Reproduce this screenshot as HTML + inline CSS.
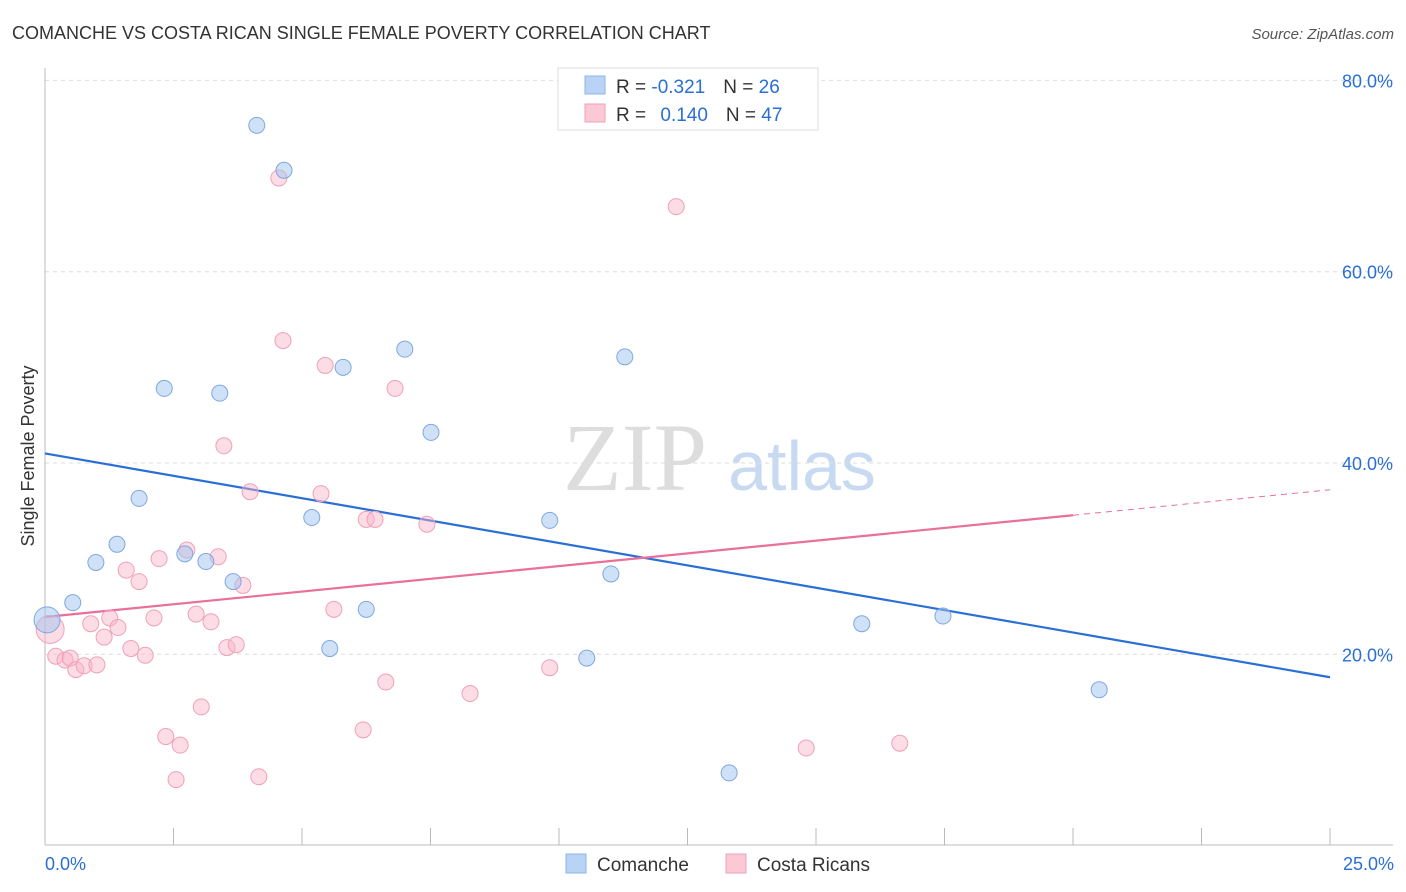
<!DOCTYPE html>
<html><head><meta charset="utf-8"><style>
body{margin:0;background:#fff;font-family:"Liberation Sans",sans-serif;}
#wrap{position:relative;width:1406px;height:892px;overflow:hidden}
</style></head><body>
<div id="wrap">
<svg id="chart" width="1406" height="892" xmlns="http://www.w3.org/2000/svg">
<text x="12" y="39" font-size="18" fill="#333">COMANCHE VS COSTA RICAN SINGLE FEMALE POVERTY CORRELATION CHART</text>
<text x="1394" y="39" font-size="15" fill="#555" text-anchor="end" font-style="italic">Source: ZipAtlas.com</text>
<text x="34" y="456" font-size="18" fill="#333" text-anchor="middle" transform="rotate(-90 34 456)">Single Female Poverty</text>
<g><text x="635" y="490" font-size="96" font-family="Liberation Serif,serif" fill="#ddd" text-anchor="middle">ZIP</text><text x="802" y="490" font-size="70" fill="#c8daf2" text-anchor="middle">atlas</text></g>
<g id="grid"></g><g id="axes"></g><g id="lines"></g><g id="pts"></g>
<g>
<rect x="558" y="68" width="260" height="62" fill="#fff" stroke="#ddd"/>
<rect x="585" y="76" width="20" height="18" fill="#b8d3f5" stroke="#8fb6e8"/>
<rect x="585" y="104" width="20" height="18" fill="#fbc8d6" stroke="#f0a0b8"/>
<text x="616" y="93" font-size="19" fill="#333">R = <tspan fill="#2a6fd6">-0.321</tspan><tspan dx="18">N = </tspan><tspan fill="#2a6fd6">26</tspan></text>
<text x="616" y="121" font-size="19" fill="#333">R = <tspan dx="9" fill="#2a6fd6">0.140</tspan><tspan dx="18">N = </tspan><tspan fill="#2a6fd6">47</tspan></text>
</g>
<g>
<rect x="566" y="854" width="20" height="19" fill="#b8d3f5" stroke="#8fb6e8"/>
<text x="597" y="871" font-size="19" fill="#333">Comanche</text>
<rect x="726" y="854" width="20" height="19" fill="#fbc8d6" stroke="#f0a0b8"/>
<text x="757" y="871" font-size="19" fill="#333">Costa Ricans</text>
</g>
<text x="45" y="870" font-size="18" fill="#2a6fd6">0.0%</text>
<text x="1394" y="870" font-size="18" fill="#2a6fd6" text-anchor="end">25.0%</text>
</svg>
</div>
<script>
const yTicks=[20,40,60,80];
const yTickLabels=["20.0%","40.0%","60.0%","80.0%"];
const xTicks=[0,2.5,5,7.5,10,12.5,15,17.5,20,22.5,25];
const comancheX=[0.04,0.54,0.99,1.40,1.83,2.32,2.72,3.13,3.40,3.66,4.12,4.65,5.19,5.54,5.80,6.25,7.00,7.51,9.82,11.01,10.54,11.28,13.31,15.89,17.47,20.51];
const comancheY=[23.6,25.4,29.6,31.5,36.3,47.8,30.5,29.7,47.3,27.6,75.3,70.6,34.3,20.6,50.0,24.7,51.9,43.2,34.0,28.4,19.6,51.1,7.6,23.2,24.0,16.3];
const costaX=[0.10,0.21,0.39,0.49,0.60,0.76,1.01,0.89,1.15,1.26,1.42,1.58,1.67,1.83,1.95,2.12,2.22,2.35,2.55,2.63,2.76,2.94,3.04,3.23,3.37,3.48,3.54,3.72,3.85,3.99,4.16,4.55,4.63,5.37,5.45,5.62,6.19,6.25,6.42,6.63,6.81,7.43,8.27,9.82,12.28,14.81,16.63];
const costaY=[22.6,19.8,19.4,19.6,18.4,18.8,18.9,23.2,21.8,23.8,22.8,28.8,20.6,27.6,19.9,23.8,30.0,11.4,6.9,10.5,30.9,24.2,14.5,23.4,30.2,41.8,20.7,21.0,27.2,37.0,7.2,69.8,52.8,36.8,50.2,24.7,12.1,34.1,34.1,17.1,47.8,33.6,15.9,18.6,66.8,10.2,10.7];
const comancheTrend=[41.0,17.6]; // y at x=0 and x=25
const costaTrend=[23.9,37.2];
const sx=v=>45+v*51.4, sy=v=>845.6-v*9.565;
const NS="http://www.w3.org/2000/svg";
function mk(t,a,p){const e=document.createElementNS(NS,t);for(const k in a)e.setAttribute(k,a[k]);p.appendChild(e);return e;}
const grid=document.getElementById('grid'),axes=document.getElementById('axes'),lines=document.getElementById('lines'),pts=document.getElementById('pts');
yTicks.forEach((t,i)=>{
 const l=mk('line',{x1:45,x2:1393,y1:sy(t),y2:sy(t),stroke:'#ddd','stroke-dasharray':'4,4'},grid);
 
 
 const tx=mk('text',{x:1393,y:sy(t)+7,'font-size':18,fill:'#2a6fd6','text-anchor':'end'},grid);
 tx.textContent=yTickLabels[i];
 
 
});
mk('line',{x1:45,x2:45,y1:68,y2:845,stroke:'#bbb'},axes);
mk('line',{x1:45,x2:1393,y1:845,y2:845,stroke:'#bbb'},axes);
xTicks.forEach(t=>{
 const l=mk('line',{x1:sx(t),x2:sx(t),y1:828,y2:845,stroke:'#bbb'},axes);
 
 
});
let bl=mk('line',{x1:sx(0),y1:sy(comancheTrend[0]),x2:sx(25),y2:sy(comancheTrend[1]),stroke:'#2a6fd6','stroke-width':2.2},lines);


const cy=x=>costaTrend[0]+(costaTrend[1]-costaTrend[0])*x/25;
let pl=mk('line',{x1:sx(0),y1:sy(cy(0)),x2:sx(20),y2:sy(cy(20)),stroke:'#e8709a','stroke-width':2.2},lines);


let pd=mk('line',{x1:sx(20),y1:sy(cy(20)),x2:sx(25),y2:sy(cy(25)),stroke:'#e8709a','stroke-width':1,'stroke-dasharray':'6,5'},lines);


costaX.forEach((x,i)=>{
 const c=mk('circle',{cx:sx(x),cy:sy(costaY[i]),r:i==0?14:8,fill:'rgba(248,180,200,0.45)',stroke:'#f0a0b8','stroke-width':1},pts);
 
 
});
comancheX.forEach((x,i)=>{
 const c=mk('circle',{cx:sx(x),cy:sy(comancheY[i]),r:i==0?13:8,fill:'rgba(160,196,240,0.5)',stroke:'#7ea8e0','stroke-width':1},pts);
 
 
});
</script>
</body></html>
